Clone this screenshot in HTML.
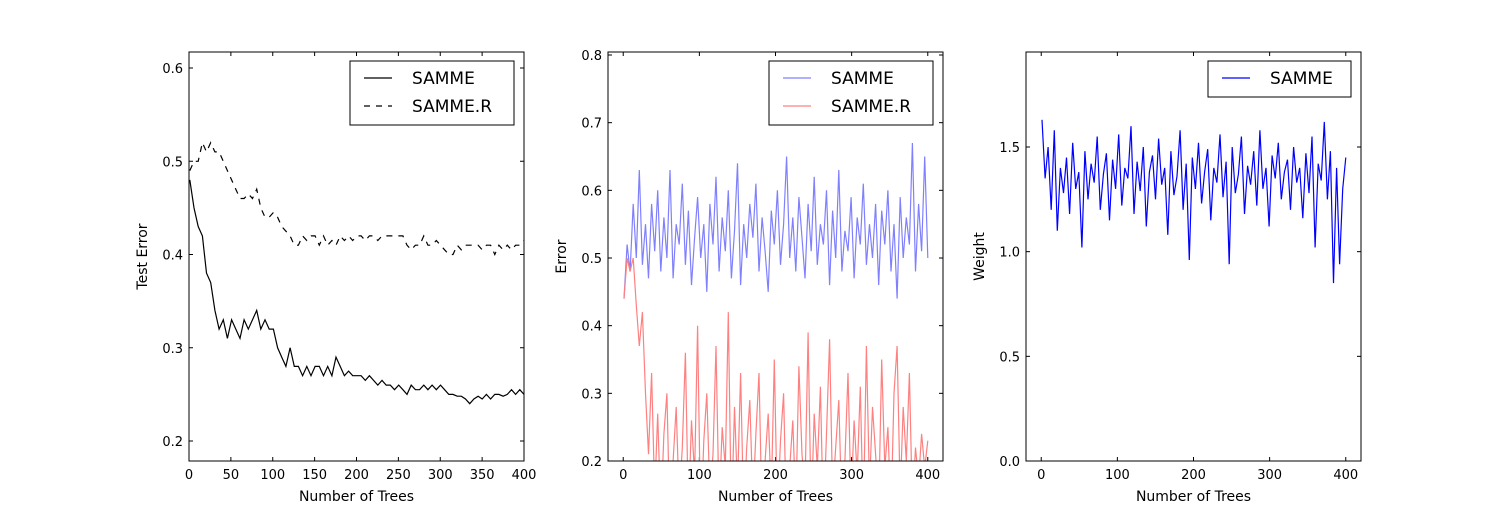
<!DOCTYPE html>
<html><head><meta charset="utf-8">
<style>
html,body{margin:0;padding:0;background:#fff;}
svg{display:block;font-family:"DejaVu Sans","Liberation Sans",sans-serif;}
</style></head>
<body>
<svg id="fig" width="1512" height="512" viewBox="0 0 1512 512" xmlns="http://www.w3.org/2000/svg">
<rect width="1512" height="512" fill="#fff"/>
<defs>
<clipPath id="c1"><rect x="189" y="52" width="335" height="409"/></clipPath>
<clipPath id="c2"><rect x="608" y="52" width="335" height="409"/></clipPath>
<clipPath id="c3"><rect x="1026" y="52" width="335" height="409"/></clipPath>
</defs>
<g id="g1"></g>
<g id="g2"></g>
<g id="g3"></g>
</svg>
<script>
const sammeTest=[0.48,0.45,0.43,0.42,0.38,0.37,0.34,0.32,0.33,0.31,0.33,0.32,0.31,0.33,0.32,0.33,0.34,0.32,0.33,0.32,0.32,0.30,0.29,0.28,0.30,0.28,0.28,0.27,0.28,0.27,0.28,0.28,0.27,0.28,0.27,0.29,0.28,0.27,0.275,0.27,0.27,0.27,0.265,0.27,0.265,0.26,0.265,0.26,0.26,0.255,0.26,0.255,0.25,0.26,0.255,0.255,0.26,0.255,0.26,0.255,0.26,0.255,0.25,0.25,0.248,0.248,0.245,0.24,0.245,0.248,0.245,0.25,0.245,0.25,0.25,0.248,0.25,0.255,0.25,0.255,0.25];
const sammeRTest=[0.49,0.50,0.50,0.52,0.51,0.52,0.51,0.51,0.50,0.49,0.48,0.47,0.46,0.46,0.465,0.46,0.47,0.45,0.44,0.44,0.445,0.44,0.43,0.425,0.42,0.41,0.41,0.42,0.415,0.42,0.42,0.41,0.42,0.41,0.415,0.41,0.42,0.415,0.42,0.415,0.42,0.42,0.415,0.42,0.42,0.415,0.42,0.42,0.42,0.42,0.42,0.42,0.41,0.405,0.41,0.41,0.42,0.41,0.41,0.415,0.41,0.405,0.40,0.40,0.41,0.405,0.41,0.41,0.41,0.41,0.405,0.41,0.41,0.40,0.41,0.405,0.41,0.405,0.41,0.41,0.415];
const sammeErr=[0.44,0.52,0.48,0.58,0.50,0.63,0.49,0.55,0.47,0.58,0.51,0.60,0.48,0.56,0.50,0.63,0.47,0.55,0.52,0.61,0.49,0.57,0.46,0.53,0.59,0.50,0.55,0.45,0.58,0.52,0.62,0.48,0.56,0.51,0.60,0.47,0.54,0.64,0.46,0.55,0.50,0.58,0.53,0.61,0.48,0.56,0.51,0.45,0.57,0.52,0.60,0.49,0.55,0.65,0.50,0.56,0.48,0.59,0.53,0.47,0.58,0.51,0.62,0.49,0.55,0.52,0.60,0.46,0.57,0.50,0.63,0.48,0.54,0.51,0.59,0.47,0.56,0.52,0.61,0.49,0.55,0.50,0.58,0.46,0.57,0.52,0.60,0.48,0.55,0.44,0.59,0.50,0.56,0.52,0.67,0.48,0.58,0.51,0.65,0.50];
const sammeRErr=[0.44,0.50,0.48,0.50,0.43,0.37,0.42,0.30,0.21,0.33,0.15,0.27,0.12,0.24,0.30,0.10,0.20,0.28,0.14,0.22,0.36,0.12,0.26,0.18,0.40,0.10,0.23,0.30,0.15,0.21,0.37,0.13,0.25,0.19,0.42,0.11,0.28,0.16,0.33,0.12,0.22,0.29,0.14,0.24,0.33,0.11,0.20,0.27,0.15,0.35,0.12,0.23,0.30,0.10,0.19,0.26,0.13,0.34,0.21,0.16,0.39,0.12,0.27,0.19,0.31,0.11,0.24,0.38,0.15,0.22,0.29,0.12,0.20,0.33,0.14,0.26,0.18,0.31,0.11,0.37,0.16,0.28,0.21,0.13,0.35,0.19,0.25,0.12,0.30,0.37,0.15,0.28,0.20,0.33,0.13,0.22,0.17,0.24,0.19,0.23];
const sammeWeight=[1.63,1.35,1.50,1.20,1.58,1.10,1.40,1.28,1.45,1.18,1.52,1.30,1.38,1.02,1.48,1.25,1.42,1.33,1.55,1.20,1.37,1.47,1.15,1.44,1.30,1.56,1.22,1.40,1.35,1.60,1.18,1.43,1.29,1.50,1.12,1.38,1.46,1.25,1.54,1.32,1.40,1.08,1.48,1.27,1.36,1.58,1.20,1.42,0.96,1.45,1.30,1.52,1.23,1.38,1.49,1.15,1.40,1.33,1.56,1.26,1.43,0.94,1.50,1.28,1.37,1.55,1.18,1.41,1.32,1.48,1.22,1.58,1.30,1.40,1.12,1.46,1.35,1.52,1.25,1.38,1.44,1.20,1.50,1.33,1.40,1.16,1.47,1.28,1.55,1.02,1.42,1.34,1.62,1.25,1.48,0.85,1.40,0.94,1.30,1.45];
const xTicks1=[0,50,100,150,200,250,300,350,400];
const yTicks1=[0.2,0.3,0.4,0.5,0.6];
const xTicks2=[0,100,200,300,400];
const yTicks2=[0.2,0.3,0.4,0.5,0.6,0.7,0.8];
const yTicks3=[0.0,0.5,1.0,1.5];

const NS="http://www.w3.org/2000/svg";
function mk(parent,tag,attrs){const e=document.createElementNS(NS,tag);for(const k in attrs)e.setAttribute(k,attrs[k]);parent.appendChild(e);return e;}
function lin(d0,d1,r0,r1){return v=>r0+(v-d0)*(r1-r0)/(d1-d0);}

function panel(g,box,xs,ys,xt,yt,ydec,xlabel,ylabel,clip){
  const [L,T,W,H]=box;
  for(const t of xt){const x=xs(t);
    const a=mk(g,'line',{x1:x,x2:x,y1:T+H,y2:T+H-4,stroke:'#000','stroke-width':1});
    
    mk(g,'line',{x1:x,x2:x,y1:T,y2:T+4,stroke:'#000','stroke-width':1});
    const tx=mk(g,'text',{x:x,y:T+H+18,'text-anchor':'middle','font-size':13});tx.textContent=t;
    }
  for(const t of yt){const y=ys(t);
    mk(g,'line',{x1:L,x2:L+4,y1:y,y2:y,stroke:'#000','stroke-width':1});
    mk(g,'line',{x1:L+W,x2:L+W-4,y1:y,y2:y,stroke:'#000','stroke-width':1});
    const tx=mk(g,'text',{x:L-6,y:y+5,'text-anchor':'end','font-size':13});tx.textContent=t.toFixed(ydec);
    }
  const xl=mk(g,'text',{x:L+W/2,y:T+H+40,'text-anchor':'middle','font-size':14});xl.textContent=xlabel;
  
  const yl=mk(g,'text',{x:0,y:0,'text-anchor':'middle','font-size':14,transform:`translate(${L-42},${T+H/2}) rotate(-90)`});yl.textContent=ylabel;
  
}
function series(g,arr,xs,ys,clip,color,dash,name){
  const n=arr.length;const pts=arr.map((v,i)=>xs(1+i*399/(n-1)).toFixed(1)+','+ys(v).toFixed(1)).join(' ');
  const p=mk(g,'polyline',{points:pts,fill:'none',stroke:color,'stroke-width':1.2,'clip-path':`url(#${clip})`});
  if(dash)p.setAttribute('stroke-dasharray',dash);
  
}
function frame(g,box){const r=mk(g,'rect',{x:box[0],y:box[1],width:box[2],height:box[3],fill:'none',stroke:'#000','stroke-width':1});
  }
function legend(g,x,y,w,entries){
  const lg=mk(g,'g',{});
  mk(lg,'rect',{x:x,y:y,width:w,height:8+entries.length*28,fill:'#fff',stroke:'#000','stroke-width':1});
  entries.forEach((e,i)=>{const cy=y+17+i*28;
    const ln=mk(lg,'line',{x1:x+14,x2:x+42,y1:cy,y2:cy,stroke:e.c,'stroke-width':1.2});
    if(e.d)ln.setAttribute('stroke-dasharray',e.d);
    const t=mk(lg,'text',{x:x+62,y:cy+6,'font-size':17});t.textContent=e.t;
    });
}

// Panel 1
const g1=document.getElementById('g1');const b1=[189,52,335,409];
const xs1=lin(0,400,189,524), ys1=lin(0.2,0.6,441,68);
panel(g1,b1,xs1,ys1,xTicks1,yTicks1,1,'Number of Trees','Test Error');
series(g1,sammeTest,xs1,ys1,'c1','#000',null,'samme-test-error-line');
series(g1,sammeRTest,xs1,ys1,'c1','#000','6,6','samme-r-test-error-line');
frame(g1,b1);
legend(g1,350,61,164,[{t:'SAMME',c:'#000'},{t:'SAMME.R',c:'#000',d:'6,6'}]);

// Panel 2
const g2=document.getElementById('g2');const b2=[608,52,335,409];
const xs2=lin(-20,420,608,943), ys2=lin(0.2,0.8,461,55);
panel(g2,b2,xs2,ys2,xTicks2,yTicks2,1,'Number of Trees','Error');
series(g2,sammeErr,xs2,ys2,'c2','#8080ff',null,'samme-error-line');
series(g2,sammeRErr,xs2,ys2,'c2','#ff8080',null,'samme-r-error-line');
frame(g2,b2);
legend(g2,769,61,164,[{t:'SAMME',c:'#8080ff'},{t:'SAMME.R',c:'#ff8080'}]);

// Panel 3
const g3=document.getElementById('g3');const b3=[1026,52,335,409];
const xs3=lin(-20,420,1026,1361), ys3=lin(0,1.5,461,147);
panel(g3,b3,xs3,ys3,xTicks2,yTicks3,1,'Number of Trees','Weight');
series(g3,sammeWeight,xs3,ys3,'c3','#0000ff',null,'samme-weight-line');
frame(g3,b3);
legend(g3,1208,61,143,[{t:'SAMME',c:'#0000ff'}]);
</script>
</body></html>
